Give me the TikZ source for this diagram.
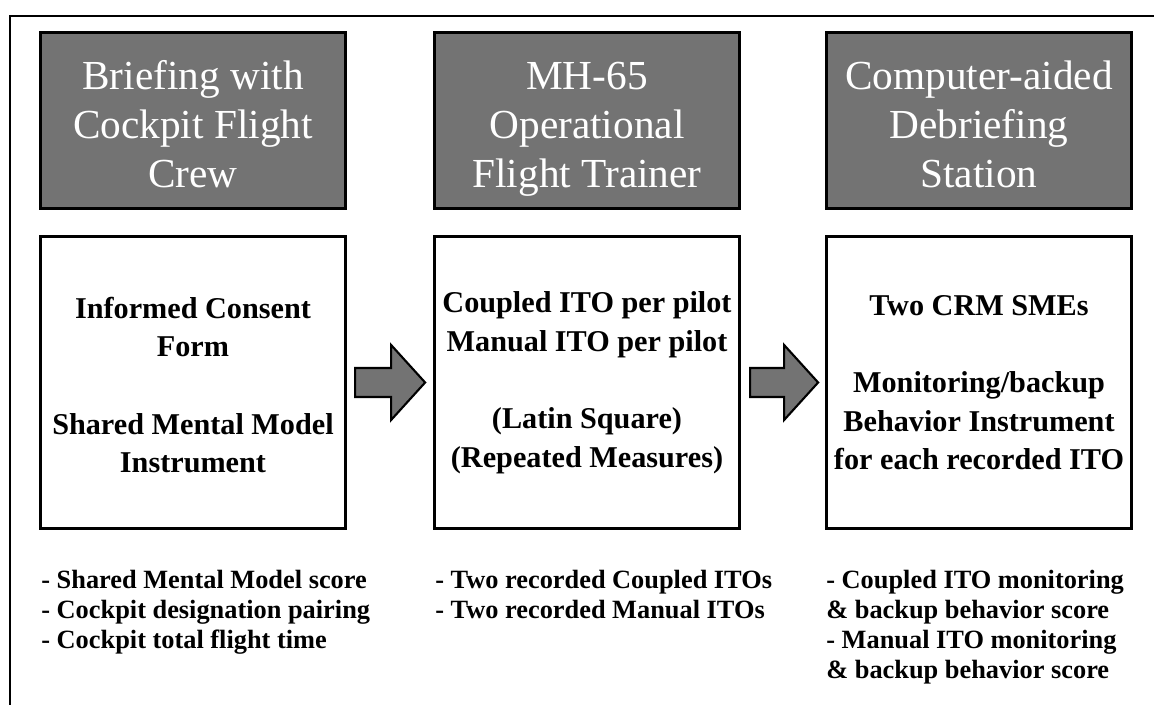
\documentclass[tikz,border=0pt]{standalone}
\usepackage{fontspec}
\setmainfont{Liberation Serif}
\usepackage{tikz}
\usetikzlibrary{calc}
\newcommand{\stagetext}[3]{\rule{0pt}{29pt}#1\\#2\\#3\strut}
\tikzset{
    stage/.style={
        draw=black,
        line width=1.6pt,
        fill=black!55,
        text=white,
        align=center,
        minimum width=6.1cm,
        minimum height=3.52cm,
        inner sep=2pt,
        font=\fontsize{23.5}{27.8}\selectfont
    },
    task/.style={
        draw=black,
        line width=1.6pt,
        fill=white,
        align=center,
        minimum width=6.1cm,
        minimum height=5.84cm,
        inner sep=2pt,
        font=\bfseries\fontsize{17.2}{22}\selectfont
    },
    result/.style={
        anchor=north west,
        align=left,
        inner sep=0pt,
        font=\bfseries\fontsize{15}{17}\selectfont
    },
    blockarrow/.style={
        draw=black,
        line width=1.2pt,
        fill=black!55,
        line join=miter
    }
}

\begin{document}
\begin{tikzpicture}[x=0.02cm, y=-0.02cm]
    \useasboundingbox (0,0) rectangle (1154,705);
    % Frame
    \draw[line width=1pt] (9,16) -- (1154,16);
    \draw[line width=1pt] (10,16) -- (10,705);

    % Stages
    \node[stage] (brief) at (193,120.5) {\stagetext{Briefing with}{Cockpit Flight}{Crew}};
    \node[stage] (trainer) at (587,120.5) {\stagetext{MH-65}{Operational}{Flight Trainer}};
    \node[stage] (debrief) at (979,120.5) {\stagetext{Computer-aided}{Debriefing}{Station}};

    % Tasks
    \node[task] (consent) at (193,382.5) {\rule{0pt}{15pt}Informed Consent\\Form\\[22pt]Shared Mental Model\\Instrument};
    \node[task] (itos) at (587,382.5) {Coupled ITO per pilot\\Manual ITO per pilot\\[22pt](Latin Square)\\(Repeated Measures)};
    \node[task] (smes) at (979,382.5) {Two CRM SMEs\\[22pt]Monitoring/backup\\Behavior Instrument\\for each recorded ITO};

    % Arrows
    \draw[blockarrow] ($(itos.west)+(-8,0)$) -- ++(-34,-37.5) -- ++(0,23)
        -- ++(-36,0) -- ++(0,29) -- ++(36,0) -- ++(0,23) -- cycle;
    \draw[blockarrow] ($(smes.west)+(-7,0)$) -- ++(-34,-37.5) -- ++(0,23)
        -- ++(-34,0) -- ++(0,29) -- ++(34,0) -- ++(0,23) -- cycle;

    % Results
    \node[result] (notes1) at (41,570) {- Shared Mental Model score\\- Cockpit designation pairing\\- Cockpit total flight time};
    \node[result] (notes2) at (435,570) {- Two recorded Coupled ITOs\\- Two recorded Manual ITOs};
    \node[result] (notes3) at (826,570) {- Coupled ITO monitoring\\\& backup behavior score\\- Manual ITO monitoring\\\& backup behavior score};
\end{tikzpicture}
\end{document}
